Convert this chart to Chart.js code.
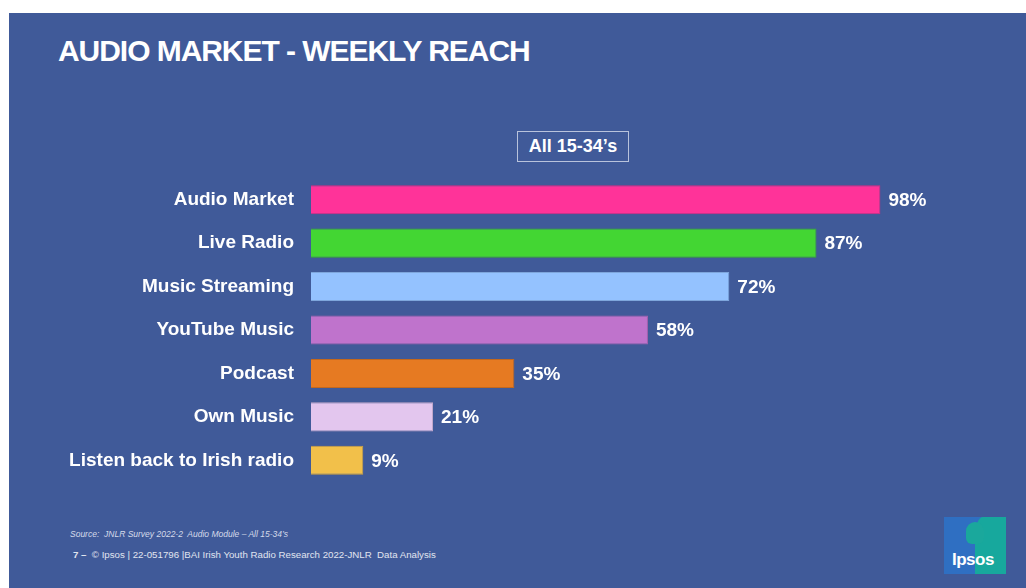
<html>
<head>
  <script src="https://cdn.jsdelivr.net/npm/chart.js@4.4.1/dist/chart.umd.min.js"></script>
  <style>
    body { margin: 0; background: #ffffff; font-family: "Liberation Sans", Arial, sans-serif; }
    #slide {
      position: absolute; left: 9px; top: 13px; width: 1017px; height: 575px;
      background: #405a99; overflow: hidden;
    }
    #title {
      position: absolute; left: 49px; top: 21px; color: #fff;
      font-weight: bold; font-size: 30px; letter-spacing: -1.05px; white-space: nowrap;
    }
    #base {
      position: absolute; left: 508px; top: 118px; width: 110px; height: 29px;
      border: 1px solid #b9c3dc; color: #fff; font-weight: bold; font-size: 18px;
      text-align: center; line-height: 29px;
    }
    #source {
      position: absolute; left: 61px; top: 516px; color: #d5dbea;
      font-size: 8.5px; font-style: italic; white-space: nowrap;
    }
    #footer {
      position: absolute; left: 64px; top: 536px; color: #e0e5f0;
      font-size: 9.7px; white-space: nowrap;
    }
    #logo {
      position: absolute; left: 935px; top: 504px; width: 62px; height: 57px; overflow: hidden;
      background: #2f6fc2;
    }
    #logo .teal {
      position: absolute; left: 31px; top: 0; width: 31px; height: 57px; background: #17a89d;
      border-top-left-radius: 8px 20px;
    }
    #logo .head {
      position: absolute; left: 22px; top: 5px; width: 18px; height: 22px; background: #1aa89c;
      border-radius: 9px 9px 6px 6px;
    }
    #logo span {
      position: absolute; left: 8px; top: 33px; color: #fff; font-weight: bold; font-size: 17px;
      letter-spacing: -0.5px;
    }
    #chartBox { position: absolute; left: 0; top: 0; width: 1026px; height: 588px; }
  </style>
</head>
<body>
  <div id="slide">
    <div id="title">AUDIO MARKET - WEEKLY REACH</div>
    <div id="base">All 15-34’s</div>
    <div id="source">Source:&nbsp; JNLR Survey 2022-2&nbsp; Audio Module – All 15-34’s</div>
    <div id="footer"><b>7 –</b>&nbsp; © Ipsos | 22-051796 |BAI Irish Youth Radio Research 2022-JNLR&nbsp; Data Analysis</div>
    <div id="logo"><div class="teal"></div><div class="head"></div><span>Ipsos</span></div>
  </div>
  <div id="chartBox"><canvas id="reach" width="1026" height="588"></canvas></div>

  <script>
    // weekly reach among 15-34s, percent
    var categories = ['Audio Market', 'Live Radio', 'Music Streaming', 'YouTube Music', 'Podcast', 'Own Music', 'Listen back to Irish radio'];
    var reach = [98, 87, 72, 58, 35, 21, 9];
    var barColours = ['#ff3399', '#43d633', '#94c2ff', '#bf73cc', '#e67a22', '#e3c6ee', '#f2c04a'];
    var edgeColours = ['#d92b84', '#38b02c', '#7ea6dc', '#a262ae', '#c4681d', '#c1a8cb', '#cfa33f'];

    // writes the percentage just past the end of each bar
    var valueLabels = {
      id: 'valueLabels',
      afterDatasetsDraw: function(chart) {
        var ctx = chart.ctx;
        var meta = chart.getDatasetMeta(0);
        ctx.save();
        ctx.fillStyle = '#ffffff';
        ctx.font = 'bold 19px "Liberation Sans", Arial, sans-serif';
        ctx.textBaseline = 'middle';
        ctx.textAlign = 'left';
        meta.data.forEach(function(bar, i) {
          ctx.fillText(reach[i] + '%', bar.x + 8, bar.y + 1);
        });
        ctx.restore();
      }
    };

    new Chart(document.getElementById('reach'), {
      type: 'bar',
      data: {
        labels: categories,
        datasets: [{
          data: reach,
          backgroundColor: barColours,
          borderColor: edgeColours,
          borderWidth: 1,
          categoryPercentage: 1,
          barPercentage: 0.67
        }]
      },
      options: {
        indexAxis: 'y',
        responsive: false,
        animation: false,
        layout: { padding: { left: 0, right: 134, top: 178, bottom: 106 } },
        plugins: { legend: { display: false }, tooltip: { enabled: false } },
        scales: {
          x: { display: false, min: 0, max: 100 },
          y: {
            grid: { display: false },
            border: { display: false },
            afterFit: function(scale) { scale.width = 311; },
            ticks: {
              color: '#ffffff',
              padding: 9,
              font: { family: '"Liberation Sans", Arial, sans-serif', size: 19, weight: 'bold' }
            }
          }
        }
      },
      plugins: [valueLabels]
    });
  </script>
</body>
</html>
